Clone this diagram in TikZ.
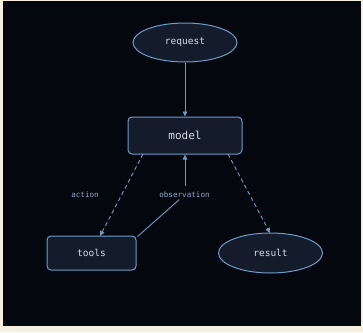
\documentclass[tikz,border=0pt]{standalone}
\usepackage{fontspec}
\setmonofont{DejaVu Sans Mono}
\usetikzlibrary{shapes.geometric,arrows.meta}
\definecolor{cream}{HTML}{F5EFDF}
\definecolor{bgdark}{HTML}{04070E}
\definecolor{nodefill}{HTML}{141C2C}
\definecolor{edgeblue}{HTML}{6C9CC6}
\definecolor{txt}{HTML}{D6DCE6}
\definecolor{lbl}{HTML}{88ACCE}
\begin{document}
\begin{tikzpicture}[x=1pt,y=-1pt,
  base/.style={draw=edgeblue, line width=1pt, fill=nodefill, text=txt, font=\ttfamily\fontsize{9.5}{11}\selectfont},
  oval/.style={base, ellipse, minimum width=104pt, minimum height=39pt, inner sep=0pt},
  box/.style={base, rectangle, rounded corners=4pt, inner sep=0pt},
  conn/.style={draw=edgeblue, line width=0.9pt},
  tip/.style={-{Triangle[length=5pt,width=4.5pt]}},
  elabel/.style={fill=bgdark, text=lbl, font=\ttfamily\fontsize{7.6}{9}\selectfont, inner sep=1.5pt}
]
\useasboundingbox (0,0) rectangle (363,332);
\fill[cream] (0,0) rectangle (363,332);
\fill[bgdark] (3,1) rectangle (361,326);

\node[oval] (request) at (185,42.5) {request};
\node[box, minimum width=114pt, minimum height=37pt, font=\ttfamily\fontsize{11}{13}\selectfont] (model) at (185,135.5) {model};
\node[box, minimum width=89pt, minimum height=34pt] (tools) at (91.5,253) {tools};
\node[oval, minimum height=40pt] (result) at (270.5,253) {result};

\draw[conn, tip] (request) -- (model);

\coordinate (actfrom) at (143,154);
\coordinate (actto) at (100,236);
\draw[conn, tip, dashed, dash pattern=on 4pt off 3pt] (actfrom) -- (actto);
\node[elabel] (actlbl) at (85,195) {action};

\coordinate (resfrom) at (228,154);
\coordinate (resto) at (270,233);
\draw[conn, tip, dashed, dash pattern=on 4pt off 3pt] (resfrom) -- (resto);

\node[elabel] (obs) at (184.5,195) {observation};
\draw[conn] (tools.north east) ++(1,1) coordinate (tne) (tne) -- (obs);
\coordinate (obstop) at (185,186);
\draw[conn, tip] (obstop) -- (model.south);
\end{tikzpicture}
\end{document}
